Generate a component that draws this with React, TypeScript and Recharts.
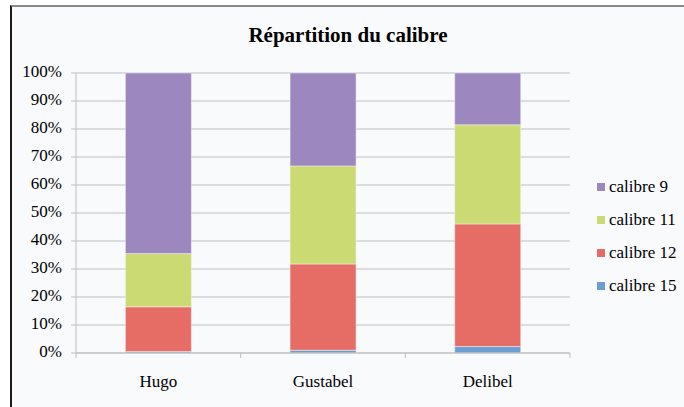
import { BarChart, Bar, XAxis, YAxis, CartesianGrid } from "recharts";

const categories = ["Hugo", "Gustabel", "Delibel"];
const calibre15 = [0.5, 1, 2.3];
const calibre12 = [16, 30.8, 43.8];
const calibre11 = [19, 35, 35.4];
const calibre9 = [64.5, 33.2, 18.5];
const yTicks = [0, 10, 20, 30, 40, 50, 60, 70, 80, 90, 100];

const series = [
  { key: "calibre 15", values: calibre15, color: "#6b9ed3" },
  { key: "calibre 12", values: calibre12, color: "#e66d65" },
  { key: "calibre 11", values: calibre11, color: "#ccda73" },
  { key: "calibre 9", values: calibre9, color: "#9d87bf" },
];

const data = categories.map((name, i) => {
  const row: Record<string, string | number> = { name };
  series.forEach((s) => (row[s.key] = s.values[i]));
  return row;
});

const FONT = '"Liberation Serif", "Times New Roman", serif';
const GRID = "#bfbfbf";
const SIZE = 17;

// label at the band centre, tick marks on the band edges (Excel style)
function CategoryTick(props: any) {
  const { x, y, payload, index } = props;
  const half = payload.offset || 0;
  const last = index === categories.length - 1;
  return (
    <g>
      <line x1={x - half} y1={y} x2={x - half} y2={y + 5} stroke={GRID} />
      {last && (
        <line x1={x + half} y1={y} x2={x + half} y2={y + 5} stroke={GRID} />
      )}
      <text
        x={x}
        y={y + 30}
        textAnchor="middle"
        dominantBaseline="middle"
        style={{ fontFamily: FONT, fontSize: SIZE }}
        fill="#000"
      >
        {payload.value}
      </text>
    </g>
  );
}

function PercentTick(props: any) {
  const { x, y, payload } = props;
  return (
    <text
      x={x}
      y={y}
      textAnchor="end"
      dominantBaseline="middle"
      style={{ fontFamily: FONT, fontSize: SIZE }}
      fill="#000"
    >
      {`${payload.value}%`}
    </text>
  );
}

function LegendBox() {
  return (
    <div
      style={{
        position: "absolute",
        left: 597,
        top: 170,
        fontFamily: FONT,
        fontSize: SIZE,
        color: "#000",
      }}
    >
      {[...series].reverse().map((s) => (
        <div
          key={s.key}
          style={{ display: "flex", alignItems: "center", height: 33 }}
        >
          <span
            style={{
              width: 8,
              height: 8,
              background: s.color,
              marginRight: 4,
              display: "inline-block",
            }}
          />
          <span style={{ fontFamily: FONT }}>{s.key}</span>
        </div>
      ))}
    </div>
  );
}

export default function App() {
  return (
    <div
      style={{
        position: "absolute",
        left: 0,
        top: 0,
        width: 684,
        height: 407,
        background: "#fff",
        overflow: "hidden",
      }}
    >
      <div
        style={{
          position: "absolute",
          left: 10,
          top: 5,
          right: 0,
          bottom: 0,
          background: "#f9fafc",
          borderLeft: "2px solid #1a1a1a",
          borderTop: "2px solid #888",
        }}
      />
      <div
        style={{
          position: "absolute",
          left: 12,
          right: 0,
          top: 23,
          textAlign: "center",
          fontFamily: FONT,
          fontWeight: "bold",
          fontSize: 21,
          color: "#000",
        }}
      >
        Répartition du calibre
      </div>
      <div style={{ position: "absolute", left: 0, top: 0 }}>
        <BarChart
          width={684}
          height={407}
          data={data}
          barCategoryGap="30%"
          margin={{ top: 73, right: 114, bottom: 14, left: 0 }}
        >
          <CartesianGrid vertical={false} stroke={GRID} />
          <XAxis
            dataKey="name"
            interval={0}
            tickLine={false}
            tickSize={0}
            tickMargin={0}
            tick={<CategoryTick />}
            axisLine={{ stroke: GRID }}
            height={40}
          />
          <YAxis
            domain={[0, 100]}
            ticks={yTicks}
            interval={0}
            width={76}
            tickSize={5}
            tickMargin={9}
            tickLine={{ stroke: GRID }}
            axisLine={{ stroke: GRID }}
            tick={<PercentTick />}
          />
          {series.map((s) => (
            <Bar
              key={s.key}
              dataKey={s.key}
              stackId="a"
              fill={s.color}
              stroke="#f3f4f8"
              strokeWidth={0.5}
              isAnimationActive={false}
            />
          ))}
        </BarChart>
      </div>
      <LegendBox />
    </div>
  );
}
